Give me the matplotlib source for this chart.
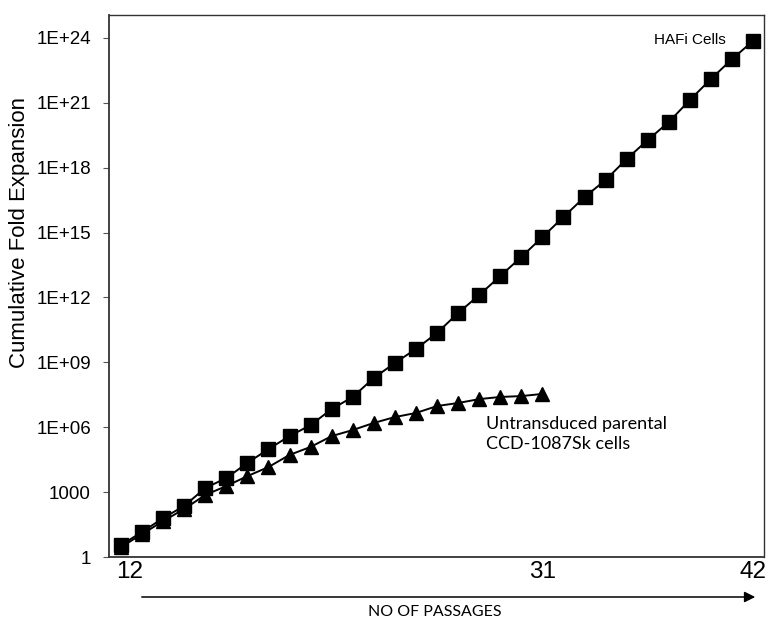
import matplotlib
matplotlib.use("Agg")
import matplotlib.pyplot as plt
import matplotlib.transforms as mtransforms
from matplotlib.ticker import NullLocator
import numpy as np

# ---- data (log10 of cumulative fold expansion) ----
hafi_passages = list(range(12, 43))
hafi_log10 = [0.55, 1.16, 1.80, 2.36, 3.19, 3.65, 4.35, 4.99, 5.59, 6.10,
              6.84, 7.40, 8.28, 8.97, 9.62, 10.36, 11.28, 12.11, 12.99, 13.87,
              14.79, 15.72, 16.64, 17.43, 18.40, 19.28, 20.11, 21.13, 22.10,
              23.02, 23.86]

parent_passages = list(range(12, 33))
parent_log10 = [0.46, 1.06, 1.66, 2.22, 2.87, 3.28, 3.74, 4.16, 4.72, 5.09,
                5.59, 5.87, 6.20, 6.47, 6.66, 6.98, 7.12, 7.30, 7.40, 7.44,
                7.54]

y_tick_values = [1, 1e3, 1e6, 1e9, 1e12, 1e15, 1e18, 1e21, 1e24]
y_tick_labels = ["1", "1000", "1E+06", "1E+09", "1E+12", "1E+15", "1E+18",
                 "1E+21", "1E+24"]
x_tick_positions = [12, 32, 42]
x_tick_labels = ["12", "31", "42"]

hafi_values = np.power(10.0, hafi_log10)
parent_values = np.power(10.0, parent_log10)

W, H = 771, 618
fig = plt.figure(figsize=(W / 100, H / 100), dpi=100)
ax = fig.add_axes([109 / W, 1 - 557 / H, (764 - 109) / W, (557 - 15) / H])

ax.plot(parent_passages, parent_values, color="black", lw=1.4,
        marker="^", ms=10, mfc="black", mec="black", zorder=2)
ax.plot(hafi_passages, hafi_values, color="black", lw=1.4,
        marker="s", ms=10.5, mfc="black", mec="black", zorder=3)

ax.set_yscale("log")
ax.set_ylim(1, 1.15e25)
ax.set_xlim(11.43, 42.52)
ax.set_yticks(y_tick_values)
ax.set_yticklabels(y_tick_labels, fontsize=13.5, family="Liberation Sans")
ax.yaxis.set_minor_locator(NullLocator())
ax.tick_params(axis="y", direction="out", length=4, width=0.8, color="#555555", pad=9)

ax.set_xticks(x_tick_positions)
ax.set_xticklabels(x_tick_labels, fontsize=17.5, family="Liberation Sans")
ax.xaxis.set_minor_locator(NullLocator())
ax.tick_params(axis="x", length=0, pad=3)
first_label = ax.get_xticklabels()[0]
first_label.set_transform(first_label.get_transform() +
                          mtransforms.ScaledTranslation(0.09, 0, fig.dpi_scale_trans))

for side in ["left", "bottom"]:
    ax.spines[side].set_linewidth(1.3)
    ax.spines[side].set_color("#333333")
for side in ["top", "right"]:
    ax.spines[side].set_linewidth(1.0)
    ax.spines[side].set_color("#333333")

fig.text(20 / W, 1 - 232 / H, "Cumulative Fold Expansion", rotation=90,
         ha="center", va="center", fontsize=16, family="Liberation Sans")

ax.text((726 - 109) / 655, 1 - (40 - 15) / 542, "HAFi Cells", transform=ax.transAxes,
        ha="right", va="center", fontsize=11, family="Liberation Sans")
ax.text(29.32, 10 ** 6.5, "Untransduced parental\nCCD-1087Sk cells",
        ha="left", va="top", fontsize=13, family="Lato", linespacing=1.25)

# arrow under the axis
fig.add_artist(matplotlib.patches.FancyArrowPatch(
    (139 / W, 1 - 597 / H), (758 / W, 1 - 597 / H),
    transform=fig.transFigure, arrowstyle="-|>", mutation_scale=16,
    color="black", lw=1.1))
fig.text(435 / W, 1 - 612 / H, "NO OF PASSAGES", ha="center", va="center",
         fontsize=11.5, family="Lato")

fig.savefig("out.png", dpi=100)
